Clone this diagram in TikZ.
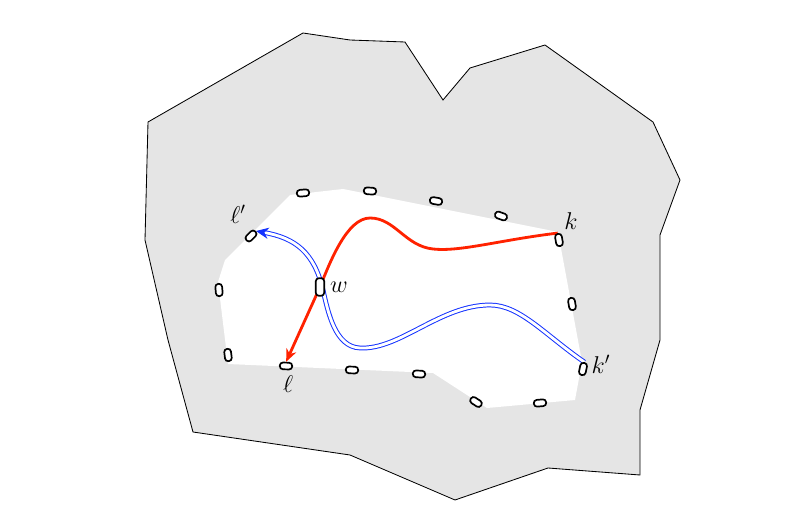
\documentclass[tikz,border=0pt]{standalone}
\usetikzlibrary{arrows.meta}
\pgfdeclarelayer{background}
\pgfsetlayers{background,main}
\definecolor{wallgray}{RGB}{229,229,229}
\definecolor{pathred}{RGB}{255,34,0}
\definecolor{pathblue}{RGB}{20,50,255}
\tikzset{
	port/.style={draw, fill=white, line width=1.2pt, rounded corners=2.2pt,
		inner sep=0pt, minimum width=8.8pt, minimum height=4.8pt},
	tag/.style={inner sep=1pt, font=\fontsize{17}{19}\selectfont},
	redpath/.style={pathred, line width=2pt},
	bluepath/.style={pathblue, line width=0.7pt, double=white, double distance=2pt},
}

\begin{document}
\begin{tikzpicture}[x=0.025cm, y=-0.025cm]
				\useasboundingbox (0,0) rectangle (798,525);
				
				% ports along the inner wall
				\node [port, rotate=5] (p1) at (303,193) {};
				\node [port, rotate=-4] (p2) at (370,191) {};
				\node [port, rotate=-10] (p3) at (436,201) {};
				\node [port, rotate=-20] (p4) at (501,216) {};
				\node [port, rotate=-80] (k) at (559,240) {};
				\node [port, rotate=-80] (p5) at (572,304) {};
				\node [port, rotate=78] (kp) at (583,369) {};
				\node [port, rotate=5] (p6) at (540,403) {};
				\node [port, rotate=-33] (p7) at (476,402) {};
				\node [port, rotate=-3] (p8) at (419,374) {};
				\node [port, rotate=-2] (p9) at (352,370) {};
				\node [port, rotate=-2] (l) at (286,366) {};
				\node [port, rotate=97] (p10) at (228,355) {};
				\node [port, rotate=95] (p11) at (219,290) {};
				\node [port, rotate=45] (lp) at (251,236) {};
				\node [port, minimum width=6pt, minimum height=12.5pt] (w) at (320,287) {};
				
				% labels
				\node [tag] (klab) at (571,221) {$k$};
				\node [tag] (kplab) at (601,364) {$k'$};
				\node [tag] (llab) at (288,384) {$\ell$};
				\node [tag] (lplab) at (238,214) {$\ell'$};
				\node [tag] (wlab) at (339,287) {$w$};
				
				\begin{pgfonlayer}{background}
				% outer wall and free region
				\fill [wallgray, draw=black, line width=0.6pt]
				(303,33) -- (350,40) -- (405,42) -- (443,100) -- (470,68) -- (545,45)
				-- (653,122) -- (680,180) -- (660,235) -- (660,340) -- (640,410)
				-- (640,475) -- (548,468) -- (455,500) -- (350,455) -- (193,432)
				-- (168,340) -- (145,240) -- (148,122) -- cycle;
				\fill [white]
				(290,195) -- (343,189) -- (558,232) -- (582,362) -- (575,400)
				-- (487,408) -- (433,373) -- (228,364) -- (218,282) -- (225,260) -- cycle;
				
				% red route k -> l through w
				\draw [redpath, -{Stealth[length=9pt, width=7.5pt]}]
				(k.west) .. controls (500,240) and (460,252) .. (433,249)
				.. controls (405,246) and (395,218) .. (370,218)
				.. controls (347,218) and (330,262) .. (w.center)
				-- (l.north);
				
				% blue route k' -> l' past w
				\draw [bluepath, -{Stealth[length=9pt, width=8pt]}]
				(kp.east) .. controls (545,335) and (520,305) .. (490,305)
				.. controls (440,305) and (400,350) .. (360,348)
				.. controls (335,347) and (328,312) .. (323,290)
				.. controls (314,252) and (295,238) .. (lp.east);
				\end{pgfonlayer}
			\end{tikzpicture}
\end{document}
